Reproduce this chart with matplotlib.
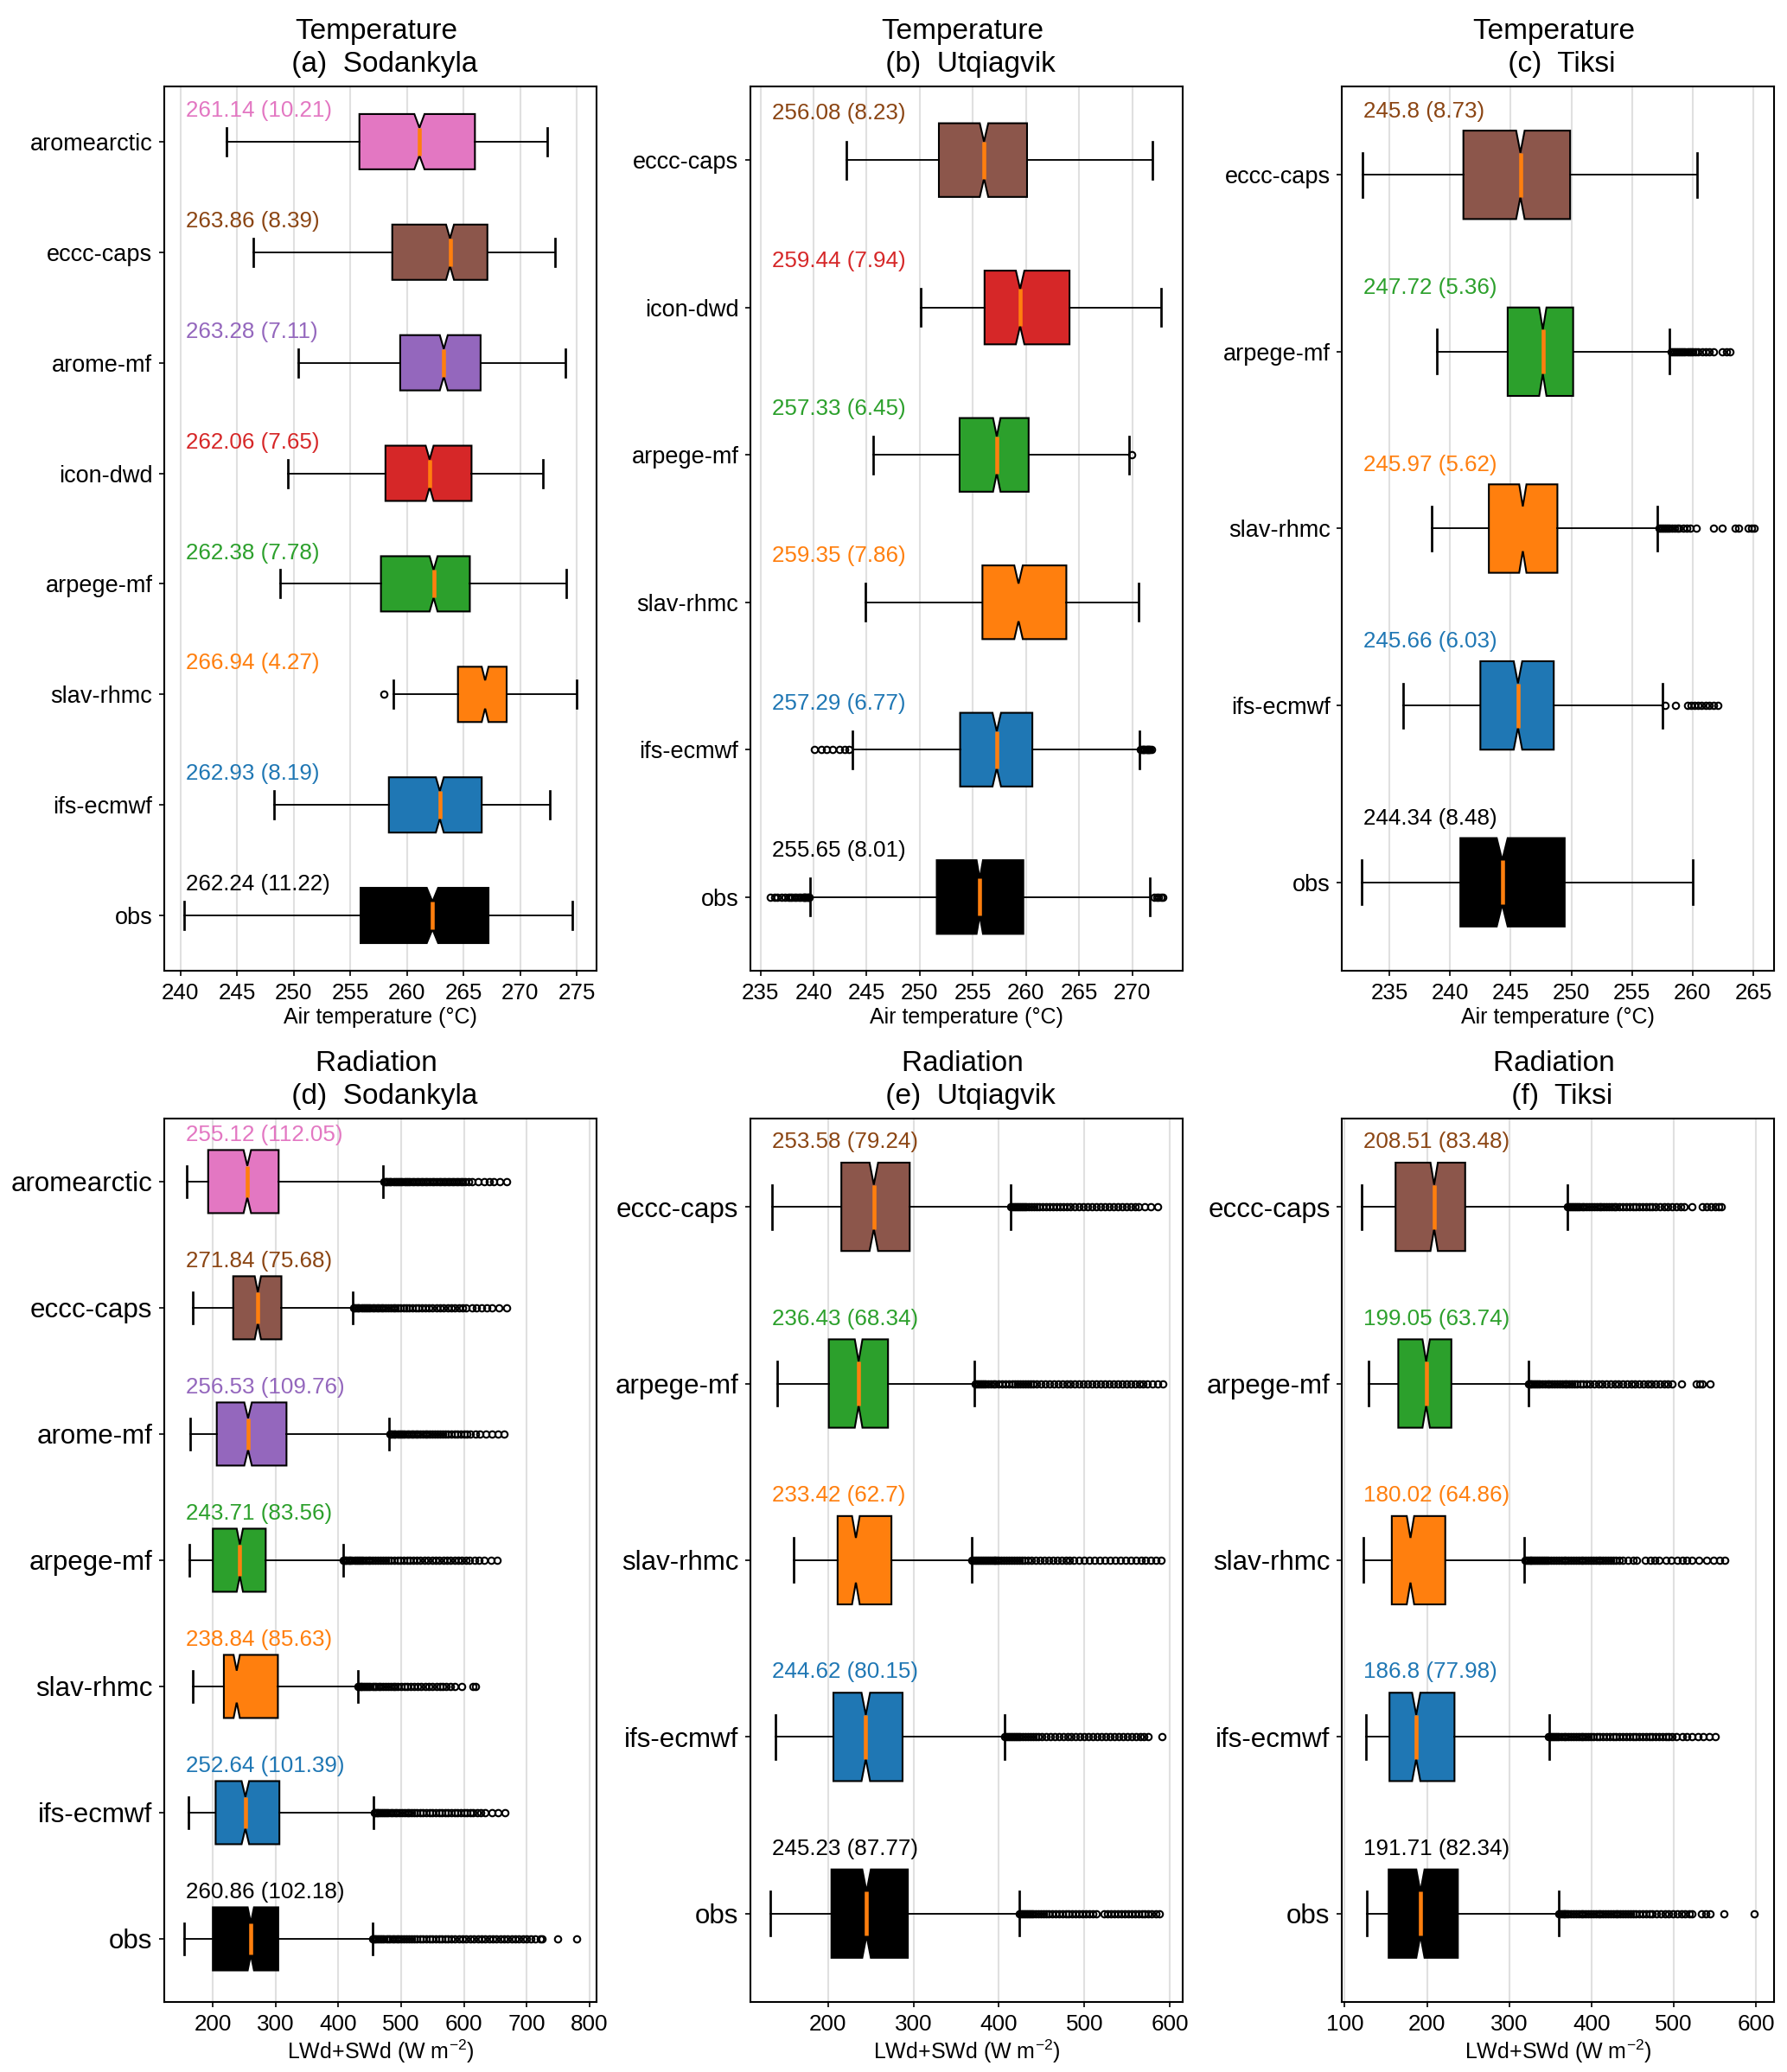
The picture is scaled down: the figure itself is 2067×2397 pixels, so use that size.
import matplotlib.pyplot as plt
import matplotlib.transforms as mtransforms
from matplotlib.ticker import MultipleLocator

plt.rcParams['font.family'] = ['Liberation Sans', 'DejaVu Sans']
plt.rcParams['mathtext.default'] = 'regular'

COLORS = {'obs': 'black', 'ifs-ecmwf': 'tab:blue', 'slav-rhmc': 'tab:orange',
          'arpege-mf': 'tab:green', 'icon-dwd': 'tab:red', 'arome-mf': 'tab:purple',
          'eccc-caps': 'tab:brown', 'aromearctic': 'tab:pink'}
# the label text uses a slightly deeper brown than the box
TEXT_COLORS = dict(COLORS, **{'eccc-caps': '#8b4513'})

# ---- (a) Temperature, Sodankyla (top to bottom)
a_models = ['aromearctic', 'eccc-caps', 'arome-mf', 'icon-dwd', 'arpege-mf', 'slav-rhmc', 'ifs-ecmwf', 'obs']
a_mean = [261.14, 263.86, 263.28, 262.06, 262.38, 266.94, 262.93, 262.24]
a_std = [10.21, 8.39, 7.11, 7.65, 7.78, 4.27, 8.19, 11.22]
a_whislo = [244.1, 246.4, 250.4, 249.5, 248.8, 258.8, 248.3, 240.3]
a_q1 = [255.8, 258.7, 259.4, 258.1, 257.7, 264.5, 258.4, 255.9]
a_med = [261.1, 263.8, 263.25, 262.0, 262.35, 266.9, 262.9, 262.25]
a_q3 = [266.0, 267.1, 266.5, 265.7, 265.55, 268.8, 266.6, 267.2]
a_whishi = [272.4, 273.1, 274.0, 272.0, 274.1, 275.0, 272.6, 274.6]
a_notch = [0.45, 0.35, 0.35, 0.35, 0.35, 0.3, 0.35, 0.5]
a_fliers = [[], [], [], [], [], [257.95], [], []]

# ---- (b) Temperature, Utqiagvik
b_models = ['eccc-caps', 'icon-dwd', 'arpege-mf', 'slav-rhmc', 'ifs-ecmwf', 'obs']
b_mean = [256.08, 259.44, 257.33, 259.35, 257.29, 255.65]
b_std = [8.23, 7.94, 6.45, 7.86, 6.77, 8.01]
b_whislo = [243.1, 250.1, 245.6, 244.9, 243.7, 239.7]
b_q1 = [251.8, 256.1, 253.75, 255.9, 253.8, 251.6]
b_med = [256.05, 259.45, 257.25, 259.3, 257.25, 255.65]
b_q3 = [260.1, 264.1, 260.25, 263.8, 260.6, 259.75]
b_whishi = [271.9, 272.75, 269.7, 270.6, 270.7, 271.65]
b_notch = [0.4, 0.4, 0.35, 0.4, 0.4, 0.3]
b_fliers = [
    [],
    [],
    [269.93],
    [],
    [240.1, 240.7, 241.2, 241.8, 242.4, 242.9, 243.3,
     270.8, 270.9, 271.0, 271.1, 271.2, 271.3, 271.4, 271.5, 271.6, 271.7, 271.8],
    [235.9, 236.3, 236.6, 237.0, 237.3, 237.6, 237.8, 238.0, 238.2, 238.4, 238.6,
     238.8, 239.0, 239.1, 239.2, 239.3, 239.4, 239.5, 239.6,
     272.1, 272.3, 272.5, 272.7, 272.9],
]

# ---- (c) Temperature, Tiksi
c_models = ['eccc-caps', 'arpege-mf', 'slav-rhmc', 'ifs-ecmwf', 'obs']
c_mean = [245.8, 247.72, 245.97, 245.66, 244.34]
c_std = [8.73, 5.36, 5.62, 6.03, 8.48]
c_whislo = [232.8, 238.9, 238.5, 236.1, 232.7]
c_q1 = [241.1, 244.75, 243.2, 242.5, 240.85]
c_med = [245.8, 247.65, 246.0, 245.6, 244.3]
c_q3 = [249.9, 250.15, 248.85, 248.55, 249.45]
c_whishi = [260.35, 258.1, 257.1, 257.55, 260.0]
c_notch = [0.35, 0.3, 0.3, 0.35, 0.45]
c_fliers = [
    [],
    [258.2, 258.35, 258.5, 258.65, 258.8, 258.95, 259.1, 259.25, 259.4, 259.55, 259.7,
     259.85, 260.0, 260.2, 260.45, 260.8, 261.1, 261.35, 261.75, 262.45, 262.8, 263.1],
    [257.2, 257.35, 257.5, 257.65, 257.8, 257.95, 258.1, 258.3, 258.5, 258.7, 258.9,
     259.2, 259.5, 259.8, 260.3, 261.7, 262.4, 263.5, 263.8, 264.6, 264.85, 265.1],
    [257.7, 258.6, 259.55, 259.85, 260.15, 260.45, 260.75, 261.05, 261.35, 261.7, 262.1],
    [],
]

# ---- (d) Radiation, Sodankyla
d_models = ['aromearctic', 'eccc-caps', 'arome-mf', 'arpege-mf', 'slav-rhmc', 'ifs-ecmwf', 'obs']
d_mean = [255.12, 271.84, 256.53, 243.71, 238.84, 252.64, 260.86]
d_std = [112.05, 75.68, 109.76, 83.56, 85.63, 101.39, 102.18]
d_whislo = [158.8, 168.2, 164.4, 162.0, 168.2, 161.3, 153.8]
d_q1 = [192.5, 232.4, 206.2, 200.0, 217.5, 204.4, 200.0]
d_med = [254.9, 271.7, 256.1, 243.0, 238.0, 251.8, 260.5]
d_q3 = [304.8, 309.2, 317.3, 284.2, 303.6, 306.0, 304.2]
d_whishi = [471.4, 422.7, 481.0, 407.1, 430.8, 456.0, 454.0]
d_notch = [6, 5, 6, 5, 5, 6, 5]
d_fliers = [
    [473, 475, 477, 479, 482, 484, 487, 490, 493, 496, 499, 502, 505, 508, 511, 514,
     518, 521, 525, 528, 532, 535, 539, 542, 546, 549, 553, 556, 560, 563, 567, 570,
     574, 577, 581, 584, 588, 591, 595, 598, 602, 607, 613, 622, 632, 640, 648, 657, 668],
    [424, 426, 428, 431, 433, 436, 439, 442, 445, 448, 451, 454, 457, 461, 464, 468,
     471, 475, 479, 483, 487, 491, 495, 499, 504, 508, 513, 518, 523, 528, 533, 538,
     544, 550, 556, 562, 568, 574, 580, 586, 592, 598, 604, 613, 620, 628, 636, 645, 655, 668],
    [482, 484, 486, 489, 491, 494, 497, 500, 503, 506, 509, 512, 516, 519, 523, 526,
     530, 534, 538, 542, 546, 550, 554, 558, 562, 566, 570, 575, 580, 585, 590, 595,
     600, 605, 610, 618, 626, 635, 644, 654, 664],
    [408, 410, 412, 414, 417, 419, 422, 425, 428, 431, 434, 437, 440, 444, 447, 451,
     455, 459, 463, 467, 471, 475, 479, 484, 489, 494, 499, 504, 509, 514, 519, 525,
     531, 537, 543, 549, 555, 561, 567, 573, 579, 585, 591, 597, 603, 609, 617, 624,
     632, 643, 653],
    [431, 433, 435, 437, 440, 442, 445, 448, 451, 454, 457, 460, 464, 467, 471, 475,
     479, 483, 487, 491, 495, 500, 505, 510, 515, 520, 526, 532, 538, 544, 550, 556,
     562, 566, 572, 578, 586, 596, 614, 619],
    [457, 459, 461, 463, 466, 468, 471, 474, 477, 480, 483, 486, 490, 493, 497, 501,
     505, 509, 513, 517, 521, 525, 530, 535, 540, 545, 550, 555, 560, 565, 570, 575,
     580, 585, 590, 595, 600, 605, 610, 614, 621, 627, 633, 644, 654, 665],
    [455, 457, 459, 462, 464, 467, 470, 473, 476, 479, 482, 486, 489, 493, 496, 500,
     504, 508, 512, 516, 520, 525, 530, 535, 540, 545, 550, 555, 560, 565, 570, 575,
     580, 586, 592, 598, 604, 610, 616, 622, 628, 634, 640, 646, 652, 658, 664, 670,
     676, 682, 688, 694, 700, 706, 713, 722, 725, 749, 780],
]

# ---- (e) Radiation, Utqiagvik
e_models = ['eccc-caps', 'arpege-mf', 'slav-rhmc', 'ifs-ecmwf', 'obs']
e_mean = [253.58, 236.43, 233.42, 244.62, 245.23]
e_std = [79.24, 68.34, 62.7, 80.15, 87.77]
e_whislo = [134.7, 141.0, 159.8, 138.3, 132.1]
e_q1 = [215.6, 200.9, 211.2, 206.3, 204.0]
e_med = [253.6, 235.8, 232.6, 244.2, 245.1]
e_q3 = [295.6, 270.2, 274.2, 287.2, 293.4]
e_whishi = [413.6, 371.6, 368.0, 406.5, 423.5]
e_notch = [5, 4.5, 4.5, 5, 5]
e_fliers = [
    [414, 416, 418, 420, 422, 424, 426, 428, 430, 432, 435, 438, 441, 444, 447, 451,
     455, 459, 463, 467, 471, 475, 479, 484, 489, 494, 499, 504, 509, 514, 519, 524,
     529, 534, 539, 544, 549, 554, 559, 563, 571, 578, 586],
    [372, 374, 376, 378, 380, 382, 384, 387, 390, 393, 396, 400, 404, 408, 412, 416,
     419, 422, 425, 428, 431, 434, 437, 440, 444, 449, 454, 459, 464, 469, 474, 479,
     484, 489, 494, 499, 504, 509, 514, 519, 524, 529, 534, 539, 544, 549, 554, 559,
     564, 569, 574, 580, 586, 592],
    [368, 370, 372, 374, 376, 378, 380, 382, 384, 386, 388, 390, 392, 394, 396, 398,
     400, 403, 406, 409, 412, 415, 418, 421, 424, 427, 430, 434, 438, 443, 448, 453,
     458, 463, 468, 473, 478, 483, 488, 494, 500, 506, 512, 518, 524, 530, 536, 542,
     548, 554, 560, 566, 572, 578, 584, 590],
    [407, 409, 411, 413, 415, 417, 419, 421, 423, 425, 428, 431, 434, 437, 440, 443,
     446, 450, 455, 460, 465, 470, 475, 480, 485, 490, 495, 500, 505, 510, 515, 520,
     525, 530, 535, 540, 545, 550, 555, 560, 565, 570, 575, 591],
    [424, 426, 428, 430, 432, 434, 436, 438, 440, 443, 446, 449, 452, 455, 458, 462,
     466, 470, 474, 478, 482, 486, 490, 494, 498, 502, 506, 510, 514, 523, 527, 531,
     535, 539, 543, 547, 551, 555, 559, 563, 567, 571, 575, 579, 584, 588],
]

# ---- (f) Radiation, Tiksi
f_models = ['eccc-caps', 'arpege-mf', 'slav-rhmc', 'ifs-ecmwf', 'obs']
f_mean = [208.51, 199.05, 180.02, 186.8, 191.71]
f_std = [83.48, 63.74, 64.86, 77.98, 82.34]
f_whislo = [120.4, 129.3, 122.3, 125.6, 126.5]
f_q1 = [161.8, 165.1, 157.2, 154.4, 153.4]
f_med = [208.7, 199.0, 179.9, 186.9, 192.0]
f_q3 = [246.4, 229.6, 222.2, 233.4, 237.5]
f_whishi = [370.4, 323.0, 318.0, 348.1, 360.2]
f_notch = [4.5, 4.5, 4.5, 5, 5]
f_fliers = [
    [371, 373, 375, 377, 379, 381, 383, 385, 388, 391, 394, 397, 400, 403, 406, 409,
     412, 415, 418, 421, 424, 427, 430, 434, 438, 442, 446, 450, 454, 458, 462, 466,
     470, 474, 478, 483, 488, 493, 498, 503, 508, 513, 522, 535, 540, 545, 550, 555, 558],
    [323, 325, 327, 329, 331, 333, 335, 337, 340, 343, 346, 349, 352, 355, 358, 361,
     364, 367, 370, 373, 376, 379, 382, 386, 390, 394, 398, 403, 408, 413, 418, 423,
     428, 433, 438, 443, 448, 453, 458, 463, 468, 473, 478, 483, 488, 493, 498, 509,
     527, 531, 535, 544],
    [319, 321, 323, 325, 327, 329, 331, 333, 335, 337, 339, 341, 343, 345, 348, 351,
     354, 357, 360, 363, 366, 369, 372, 375, 378, 381, 384, 387, 390, 393, 396, 399,
     402, 405, 408, 411, 414, 417, 420, 423, 426, 430, 434, 438, 444, 450, 455, 465,
     471, 477, 482, 490, 497, 504, 510, 516, 522, 530, 540, 548, 556, 562],
    [348, 350, 352, 354, 356, 358, 360, 363, 366, 369, 372, 375, 378, 381, 384, 387,
     390, 393, 396, 399, 402, 406, 410, 414, 418, 422, 426, 430, 434, 438, 442, 446,
     450, 454, 458, 462, 466, 470, 474, 478, 482, 486, 490, 494, 498, 503, 510, 516,
     522, 529, 536, 543, 550],
    [360, 362, 364, 366, 368, 370, 372, 375, 378, 381, 384, 387, 390, 393, 396, 399,
     402, 405, 408, 411, 414, 417, 420, 423, 426, 429, 432, 435, 438, 441, 444, 447,
     450, 454, 458, 462, 466, 470, 474, 479, 484, 489, 494, 499, 504, 509, 514, 519,
     522, 534, 539, 544, 561, 598],
]

T_LABEL = 'Air temperature (°C)'
R_LABEL = 'LWd+SWd (W m$^{-2}$)'


def draw(ax, models, mean, std, whislo, q1, med, q3, whishi, notch, fliers,
         title, xlabel, step, txt_off, ylab_size):
    n = len(models)
    pos = list(range(n, 0, -1))
    stats = []
    for i in range(n):
        stats.append(dict(med=med[i], q1=q1[i], q3=q3[i], whislo=whislo[i],
                          whishi=whishi[i], fliers=fliers[i],
                          cilo=med[i] - notch[i], cihi=med[i] + notch[i]))
    bp = ax.bxp(stats, positions=pos, widths=0.5, orientation='horizontal',
                shownotches=True, patch_artist=True,
                boxprops=dict(linewidth=1.0, edgecolor='black'),
                whiskerprops=dict(linewidth=0.9, color='black'),
                capprops=dict(linewidth=1.3, color='black'),
                medianprops=dict(linewidth=2.2, color='#ff7f0e'),
                flierprops=dict(marker='o', markerfacecolor='none',
                                markeredgecolor='black', markersize=3.6,
                                markeredgewidth=1.0))
    for patch, m in zip(bp['boxes'], models):
        patch.set_facecolor(COLORS[m])

    trans = mtransforms.blended_transform_factory(ax.transAxes, ax.transData)
    for i, m in enumerate(models):
        ax.text(0.05, pos[i] + txt_off, f'{mean[i]} ({std[i]})', transform=trans,
                color=TEXT_COLORS[m], fontsize=12.5, ha='left', va='center')

    ax.set_yticks(pos, models)
    ax.set_ylim(0.5, n + 0.5)
    ax.tick_params(axis='y', labelsize=ylab_size, length=3)
    ax.tick_params(axis='x', labelsize=12.5, length=3)
    ax.xaxis.set_major_locator(MultipleLocator(step))
    ax.xaxis.grid(True, color='#e0e0e0', linewidth=1.0)
    ax.set_axisbelow(True)
    ax.set_xlabel(xlabel, fontsize=12, labelpad=2)
    ax.set_title(title, fontsize=16, linespacing=1.3, pad=8)
    for s in ax.spines.values():
        s.set_linewidth(1.0)


fig = plt.figure(figsize=(13.78, 15.98), dpi=150)
lefts = [0.0919, 0.4199, 0.7509]
w = 0.2419
ax_a = fig.add_axes([lefts[0], 0.5315, w, 0.4268])
ax_b = fig.add_axes([lefts[1], 0.5315, w, 0.4268])
ax_c = fig.add_axes([lefts[2], 0.5315, w, 0.4268])
ax_d = fig.add_axes([lefts[0], 0.0338, w, 0.4264])
ax_e = fig.add_axes([lefts[1], 0.0338, w, 0.4264])
ax_f = fig.add_axes([lefts[2], 0.0338, w, 0.4264])

draw(ax_a, a_models, a_mean, a_std, a_whislo, a_q1, a_med, a_q3, a_whishi, a_notch,
     a_fliers, 'Temperature \n (a)  Sodankyla', T_LABEL, 5, 0.28, 13)
draw(ax_b, b_models, b_mean, b_std, b_whislo, b_q1, b_med, b_q3, b_whishi, b_notch,
     b_fliers, 'Temperature \n (b)  Utqiagvik', T_LABEL, 5, 0.315, 13)
draw(ax_c, c_models, c_mean, c_std, c_whislo, c_q1, c_med, c_q3, c_whishi, c_notch,
     c_fliers, 'Temperature \n (c)  Tiksi', T_LABEL, 5, 0.36, 13)
draw(ax_d, d_models, d_mean, d_std, d_whislo, d_q1, d_med, d_q3, d_whishi, d_notch,
     d_fliers, 'Radiation \n (d)  Sodankyla', R_LABEL, 100, 0.37, 15)
draw(ax_e, e_models, e_mean, e_std, e_whislo, e_q1, e_med, e_q3, e_whishi, e_notch,
     e_fliers, 'Radiation \n (e)  Utqiagvik', R_LABEL, 100, 0.367, 15)
draw(ax_f, f_models, f_mean, f_std, f_whislo, f_q1, f_med, f_q3, f_whishi, f_notch,
     f_fliers, 'Radiation \n (f)  Tiksi', R_LABEL, 100, 0.367, 15)

fig.savefig('out.png', dpi=150)
